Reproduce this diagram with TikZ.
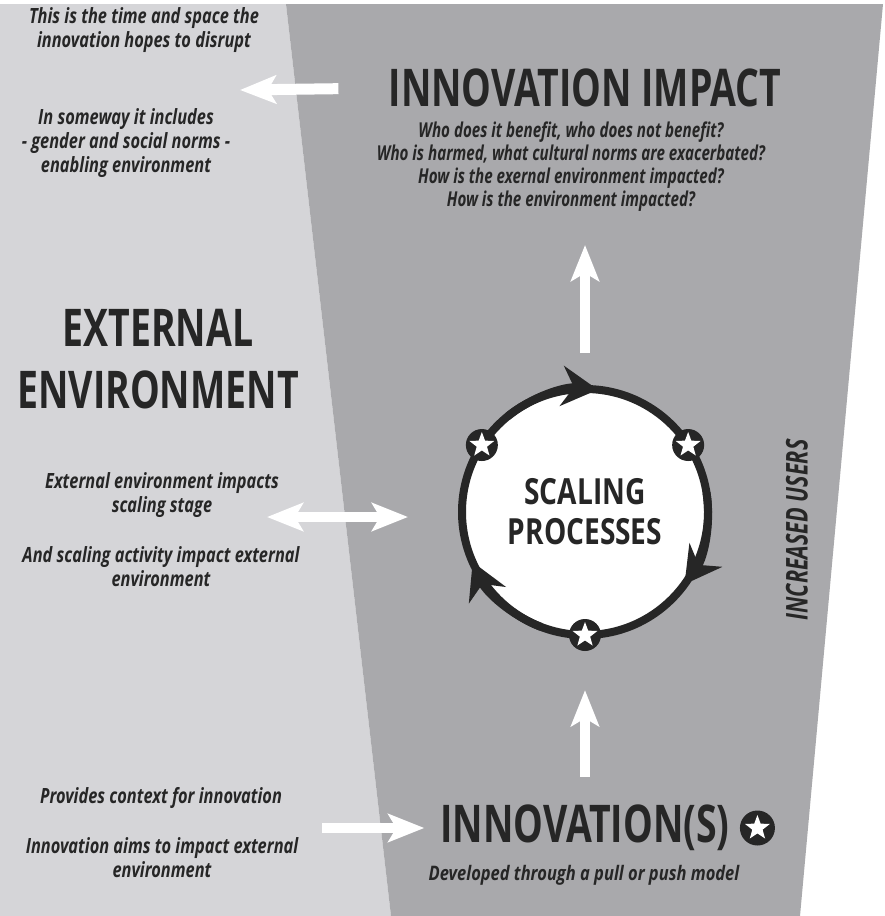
\documentclass[tikz,border=0pt]{standalone}
\usepackage{fontspec}
\setmainfont{Open Sans}
\newfontfamily\headfont[FakeStretch=0.72]{Open Sans}
\newfontfamily\notefont[FakeStretch=0.78]{Open Sans}
\newfontfamily\askfont[FakeStretch=0.74]{Open Sans}
\newfontfamily\modelfont[FakeStretch=0.825]{Open Sans}
\newfontfamily\ringfont[FakeStretch=0.78]{Open Sans}
\usetikzlibrary{arrows.meta,positioning,shapes.geometric}

\definecolor{envgray}{HTML}{D5D5D8}
\definecolor{coregray}{HTML}{A9A9AC}
\definecolor{inkgray}{HTML}{262626}

\tikzset{
  headtext/.style={text=inkgray, inner sep=0pt, align=center,
    font=\headfont\bfseries\fontsize{52}{62}\selectfont},
  notetext/.style={text=inkgray, inner sep=0pt, align=center,
    font=\notefont\bfseries\itshape\fontsize{21}{24}\selectfont},
  asktext/.style={notetext, font=\askfont\bfseries\itshape\fontsize{20.5}{23}\selectfont},
  modeltext/.style={notetext, font=\modelfont\bfseries\itshape\fontsize{20}{24}\selectfont},
  fatarrow/.style={white, line width=10pt, -{Stealth[length=36pt,width=28pt,inset=8pt]}},
  twinarrow/.style={fatarrow, {Stealth[length=36pt,width=28pt,inset=8pt]}-{Stealth[length=36pt,width=28pt,inset=8pt]}},
  ringstar/.style={circle, fill=inkgray, minimum size=32pt, inner sep=0pt,
    path picture={\node[star, star points=5, star point ratio=2.4, fill=white, anchor=center,
      minimum size=26pt, inner sep=0pt] at (path picture bounding box.center) {};}},
}

\begin{document}
\begin{tikzpicture}[x=1pt, y=-1pt]
  \useasboundingbox (0,0) rectangle (885,916);
  % Hintergrund: Umfeld + Trapez
  \fill[white] (0,0) rectangle (885,916);
  \fill[envgray] (0,4) -- (286,4) -- (391,916) -- (0,916) -- cycle;
  \fill[coregray] (286,4) -- (883,4) -- (800,916) -- (391,916) -- cycle;

  % Texte links
  \node[notetext] (disrupt) at (144,30) {This is the time and space the\\innovation hopes to disrupt};
  \node[notetext] (norms) at (126,143) {In someway it includes\\- gender and social norms -\\enabling environment};
  \node[headtext] (extenv) at (158,359) {EXTERNAL\\ENVIRONMENT};
  \node[notetext] (stage) at (162,495) {External environment impacts\\scaling stage};
  \node[notetext] (activity) at (161,567) {And scaling activity impact external\\environment};
  \node[notetext] (context) at (161,798) {Provides context for innovation};
  \node[notetext] (aims) at (162,858) {Innovation aims to impact external\\environment};

  % Texte im Trapez
  \node[headtext] (impact) at (585,88) {INNOVATION IMPACT};
  \node[asktext] (questions) at (571,167) {Who does it benefit, who does not benefit?\\Who is harmed, what cultural norms are exacerbated?\\How is the exernal environment impacted?\\How is the environment impacted?};
  \node[headtext] (innov) at (585,828) {INNOVATION(S)};
  \node[ringstar, minimum size=35pt, right=10pt of innov] (innovstar) {};
  \node[modeltext] (model) at (584,875) {Developed through a pull or push model};
  \node[text=inkgray, rotate=90, font=\headfont\bfseries\itshape\fontsize{30}{30}\selectfont] (users) at (797,530) {INCREASED USERS};

  % Kreis + Pfeilspitzen + Sterne
  \node[circle, draw=inkgray, line width=8pt, fill=white, minimum size=246pt, outer sep=0pt,
    headtext, font=\ringfont\bfseries\fontsize{36}{40}\selectfont] (ring) at (585,512) {SCALING\\PROCESSES};
  \foreach \tipangle in {84,-36,204}
    \draw[inkgray, line width=8pt, -{Stealth[length=36pt,width=40pt,inset=12pt]}]
      (ring.center) ++(-\tipangle-45:123) arc[start angle=-\tipangle-45, end angle=-\tipangle, radius=123];
  \foreach \starangle/\starname in {147/starA, 33/starB, 270/starC}
    \node[ringstar] (\starname) at (ring.\starangle) {};

  % weisse Pfeile
  \coordinate (pasttip) at (240,90);
  \coordinate (envtip) at (267,517);
  \coordinate (ctxfoot) at (322,828);
  \draw[fatarrow, line width=11pt, shorten <=50pt] (impact.west) -- (pasttip);
  \draw[fatarrow, shorten <=36pt, shorten >=33pt] (ring.north) -- (ring.north |- questions.south);
  \draw[fatarrow, shorten <=28pt, shorten >=39pt] (innov.north) -- (starC.south);
  \draw[twinarrow, shorten >=54pt] (envtip) -- (envtip -| ring.west);
  \draw[fatarrow, shorten >=16pt] (ctxfoot) -- (ctxfoot -| innov.west);
\end{tikzpicture}
\end{document}
